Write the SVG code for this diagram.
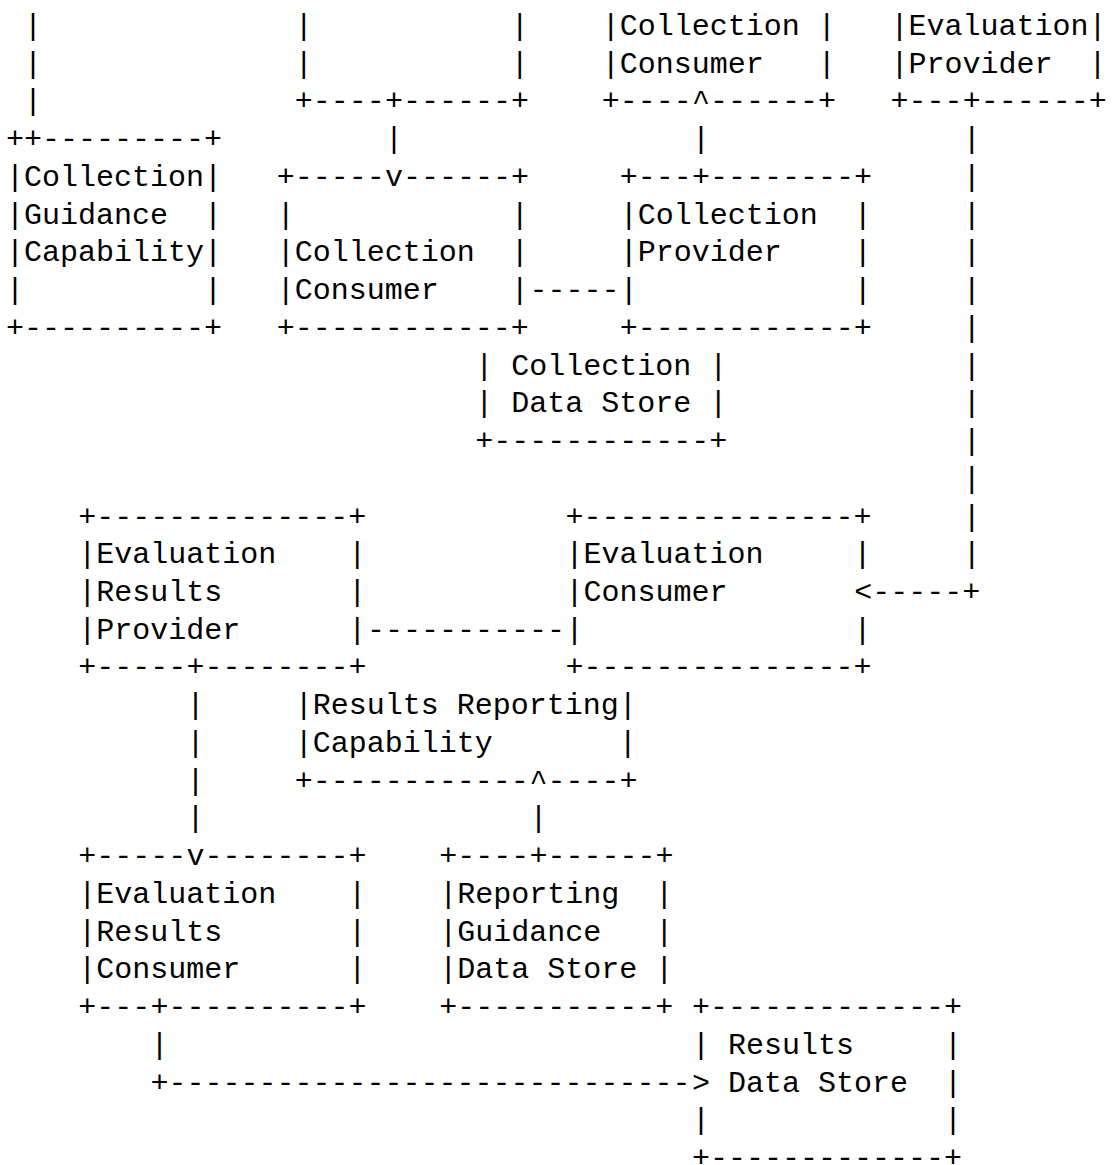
<svg xmlns="http://www.w3.org/2000/svg" width="1112" height="1165" viewBox="0 0 1112 1165" xml:space="preserve">
<style>
text { font-family: "Liberation Mono", "DejaVu Sans Mono", monospace; font-size: 30px; fill: #000; white-space: pre; }
</style>
<rect width="1112" height="1165" fill="#fff"/>

<g id="node-upper-box">
<text x="294.8" y="34.9">|           |</text>
<text x="294.8" y="72.64">|           |</text>
<text x="294.8" y="110.38">+----</text><text x="403.1" y="110.38">------+</text>
</g>

<g id="node-collection-consumer-top">
<text x="601.65" y="34.9">|Collection |</text>
<text x="601.65" y="72.64">|Consumer   |</text>
<text x="601.65" y="110.38">+----</text><text x="709.95" y="110.38">------+</text>
</g>

<g id="node-evaluation-provider">
<text x="890.45" y="34.9">|Evaluation|</text>
<text x="890.45" y="72.64">|Provider  |</text>
<text x="890.45" y="110.38">+---</text><text x="980.7" y="110.38">------+</text>
</g>

<g id="node-collection-guidance-capability">
<text x="6" y="148.12">+</text><text x="42.1" y="148.12">---------+</text>
<text x="6" y="185.86">|Collection|</text>
<text x="6" y="223.6">|Guidance  |</text>
<text x="6" y="261.34">|Capability|</text>
<text x="6" y="299.08">|          |</text>
<text x="6" y="336.82">+----------+</text>
</g>

<g id="node-collection-consumer">
<text x="276.75" y="185.86">+-----</text><text x="403.1" y="185.86">------+</text>
<text x="276.75" y="223.6">|            |</text>
<text x="276.75" y="261.34">|Collection  |</text>
<text x="276.75" y="299.08">|Consumer    |</text>
<text x="276.75" y="336.82">+------------+</text>
</g>

<g id="node-collection-provider">
<text x="619.7" y="185.86">+---</text><text x="709.95" y="185.86">--------+</text>
<text x="619.7" y="223.6">|Collection  |</text>
<text x="619.7" y="261.34">|Provider    |</text>
<text x="619.7" y="299.08">|            |</text>
<text x="619.7" y="336.82">+------------+</text>
</g>

<g id="node-collection-data-store">
<text x="475.3" y="374.56">| Collection |</text>
<text x="475.3" y="412.3">| Data Store |</text>
<text x="475.3" y="450.04">+------------+</text>
</g>

<g id="node-evaluation-results-provider">
<text x="78.2" y="525.52">+--------------+</text>
<text x="78.2" y="563.26">|Evaluation    |</text>
<text x="78.2" y="601">|Results       |</text>
<text x="78.2" y="638.74">|Provider      |</text>
<text x="78.2" y="676.48">+-----</text><text x="204.55" y="676.48">--------+</text>
</g>

<g id="node-evaluation-consumer">
<text x="565.55" y="525.52">+---------------+</text>
<text x="565.55" y="563.26">|Evaluation     |</text>
<text x="565.55" y="601">|Consumer</text>
<text x="565.55" y="638.74">|               |</text>
<text x="565.55" y="676.48">+---------------+</text>
</g>

<g id="node-results-reporting-capability">
<text x="294.8" y="714.22">|Results Reporting|</text>
<text x="294.8" y="751.96">|Capability       |</text>
<text x="294.8" y="789.7">+------------</text><text x="547.5" y="789.7">----+</text>
</g>

<g id="node-evaluation-results-consumer">
<text x="78.2" y="865.18">+-----</text><text x="204.55" y="865.18">--------+</text>
<text x="78.2" y="902.92">|Evaluation    |</text>
<text x="78.2" y="940.66">|Results       |</text>
<text x="78.2" y="978.4">|Consumer      |</text>
<text x="78.2" y="1016.14">+---</text><text x="168.45" y="1016.14">----------+</text>
</g>

<g id="node-reporting-guidance-data-store">
<text x="439.2" y="865.18">+----</text><text x="547.5" y="865.18">------+</text>
<text x="439.2" y="902.92">|Reporting  |</text>
<text x="439.2" y="940.66">|Guidance   |</text>
<text x="439.2" y="978.4">|Data Store |</text>
<text x="439.2" y="1016.14">+-----------+</text>
</g>

<g id="node-results-data-store">
<text x="691.9" y="1016.14">+-------------+</text>
<text x="691.9" y="1053.88">| Results     |</text>
<text x="709.95" y="1091.62"> Data Store  |</text>
<text x="691.9" y="1129.36">|             |</text>
<text x="691.9" y="1167.1">+-------------+</text>
</g>

<g id="connectors">
<text x="24.05" y="34.9">|</text>
<text x="24.05" y="72.64">|</text>
<text x="24.05" y="110.38">|</text>
<text x="24.05" y="148.12">+</text>

<text x="385.05" y="110.38">+</text>
<text x="385.05" y="148.12">|</text>
<text x="385.05" y="185.86">v</text>

<text x="691.9" y="110.38">^</text>
<text x="691.9" y="148.12">|</text>
<text x="691.9" y="185.86">+</text>

<text x="529.45" y="299.08">-----</text>

<text x="962.65" y="110.38">+</text>
<text x="962.65" y="148.12">|</text>
<text x="962.65" y="185.86">|</text>
<text x="962.65" y="223.6">|</text>
<text x="962.65" y="261.34">|</text>
<text x="962.65" y="299.08">|</text>
<text x="962.65" y="336.82">|</text>
<text x="962.65" y="374.56">|</text>
<text x="962.65" y="412.3">|</text>
<text x="962.65" y="450.04">|</text>
<text x="962.65" y="487.78">|</text>
<text x="962.65" y="525.52">|</text>
<text x="962.65" y="563.26">|</text>
<text x="854.35" y="601">&lt;-----+</text>

<text x="367" y="638.74">-----------</text>

<text x="186.5" y="676.48">+</text>
<text x="186.5" y="714.22">|</text>
<text x="186.5" y="751.96">|</text>
<text x="186.5" y="789.7">|</text>
<text x="186.5" y="827.44">|</text>
<text x="186.5" y="865.18">v</text>

<text x="529.45" y="789.7">^</text>
<text x="529.45" y="827.44">|</text>
<text x="529.45" y="865.18">+</text>

<text x="150.4" y="1016.14">+</text>
<text x="150.4" y="1053.88">|</text>
<text x="150.4" y="1091.62">+-----------------------------</text>
<text x="691.9" y="1091.62">&gt;</text>
</g>
</svg>
